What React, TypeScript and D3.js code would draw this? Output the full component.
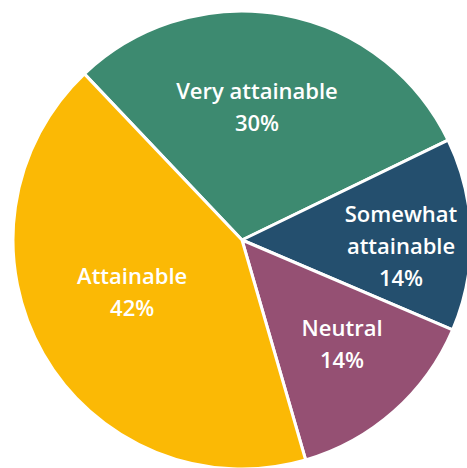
import React from "react";
import * as d3 from "d3";

const categories = ["Very attainable", "Somewhat attainable", "Neutral", "Attainable"];
const values = [29.9, 13.6, 14.1, 42.4];
const colors = ["#3d8a70", "#244f6e", "#955073", "#fbb905"];
const labelLines = [["Very attainable"], ["Somewhat", "attainable"], ["Neutral"], ["Attainable"]];
const labelRadiusFactor = [0.584, 0.695, 0.631, 0.532];
const labelAngleOffset = [-3.9, 3.6, -2.3, 4.2];

const W = 467;
const H = 468;

export default function App() {
  const cx = 242;
  const cy = 240;
  const r = 229;
  const start = (-43.5 * Math.PI) / 180;
  const pie = d3
    .pie<number>()
    .sort(null)
    .startAngle(start)
    .endAngle(start + 2 * Math.PI)
    .value((d) => d);
  const arcs = pie(values);
  const arc = d3.arc<d3.PieArcDatum<number>>().innerRadius(0).outerRadius(r);
  const total = d3.sum(values);
  const lh = 32;

  return (
    <svg
      width={W}
      height={H}
      style={{ position: "absolute", left: 0, top: 0 }}
    >
      <g transform={`translate(${cx},${cy})`}>
        {arcs.map((a, i) => (
          <path key={i} d={arc(a) || ""} fill={colors[i]} stroke="#fff" strokeWidth={3} strokeLinejoin="round" />
        ))}
        {arcs.map((a, i) => {
          const lr = r * labelRadiusFactor[i];
          const ang = (a.startAngle + a.endAngle) / 2 + (labelAngleOffset[i] * Math.PI) / 180;
          const lx = lr * Math.sin(ang);
          const ly = -lr * Math.cos(ang);
          const lines = [...labelLines[i], `${Math.round((values[i] / total) * 100)}%`];
          const y0 = ly - ((lines.length - 1) * lh) / 2;
          return (
            <text
              key={"t" + i}
              textAnchor="middle"
              fill="#fff"
              fontFamily="'Open Sans', sans-serif"
              fontWeight={600}
              fontSize={22}
            >
              {lines.map((t, j) => (
                <tspan key={j} x={lx} y={y0 + j * lh} dy="0.35em">
                  {t}
                </tspan>
              ))}
            </text>
          );
        })}
      </g>
    </svg>
  );
}
